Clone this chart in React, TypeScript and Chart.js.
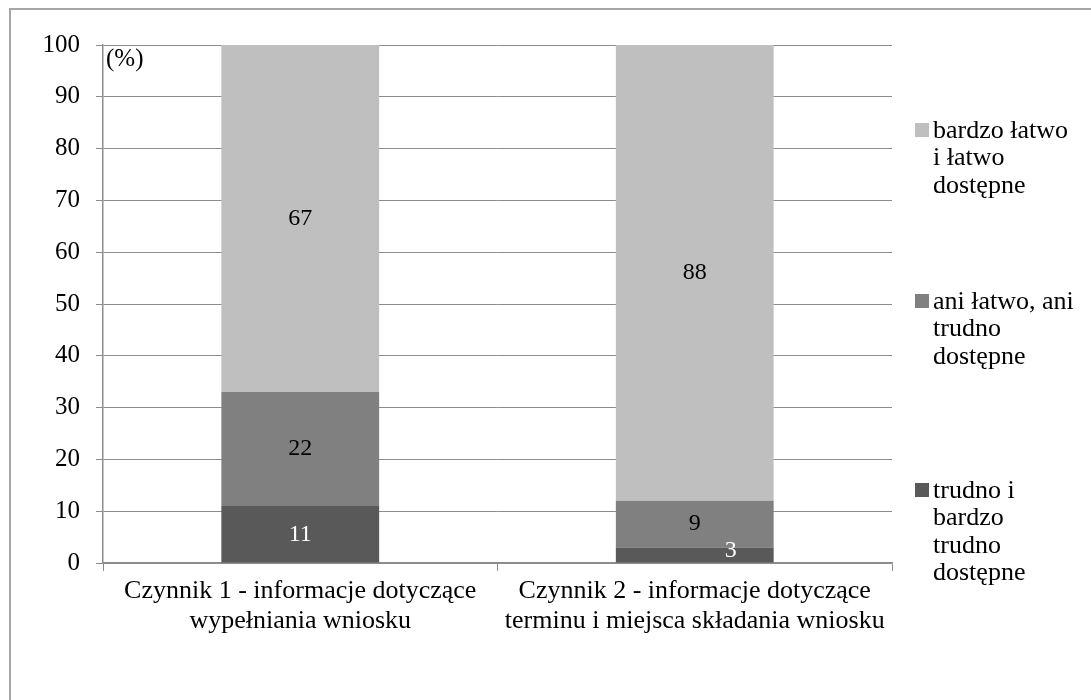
import React, { useEffect, useRef } from "react";
import { Chart, registerables } from "chart.js";

Chart.register(...registerables);

const categories = [
  ["Czynnik 1 - informacje dotyczące", "wypełniania wniosku"],
  ["Czynnik 2 - informacje dotyczące", "terminu i miejsca składania wniosku"],
];
const seriesNames = [
  "trudno i bardzo trudno dostępne",
  "ani łatwo, ani trudno dostępne",
  "bardzo łatwo i łatwo dostępne",
];
const legendLines = [
  ["trudno i", "bardzo", "trudno", "dostępne"],
  ["ani łatwo, ani", "trudno", "dostępne"],
  ["bardzo łatwo", "i łatwo", "dostępne"],
];
const hardValues = [11, 3];
const neutralValues = [22, 9];
const easyValues = [67, 88];
const yTicks = [0, 10, 20, 30, 40, 50, 60, 70, 80, 90, 100];
const unitLabel = "(%)";

const colors = ["#595959", "#808080", "#bfbfbf"];
const labelColors = ["#ffffff", "#000000", "#000000"];
const FONT = '"Liberation Serif", "Times New Roman", serif';
const FS_TICK = 25;
const FS_CAT = 26;
const FS_LEG = 26;
const FS_VAL = 24;
const GRID = "#8c8c8c";

const labelsPlugin = {
  id: "valueLabels",
  afterDatasetsDraw(chart: any) {
    const ctx = chart.ctx;
    ctx.save();
    ctx.font = `${FS_VAL}px ${FONT}`;
    ctx.textAlign = "center";
    ctx.textBaseline = "middle";
    chart.data.datasets.forEach((ds: any, di: number) => {
      const meta = chart.getDatasetMeta(di);
      meta.data.forEach((bar: any, i: number) => {
        const v = ds.data[i];
        const h = Math.abs(bar.base - bar.y);
        let x = bar.x;
        let y = (bar.y + bar.base) / 2;
        if (h < FS_VAL) {
          x += 36;
          y -= 4;
        }
        ctx.fillStyle = labelColors[di];
        ctx.fillText(String(v), x, y);
      });
    });
    ctx.restore();
  },
};

const extrasPlugin = {
  id: "extras",
  afterDraw(chart: any) {
    const ctx = chart.ctx;
    const area = chart.chartArea;
    ctx.save();
    ctx.font = `${FS_TICK}px ${FONT}`;
    ctx.fillStyle = "#000";
    ctx.textAlign = "left";
    ctx.textBaseline = "middle";
    ctx.fillText(unitLabel, area.left + 3, area.top + 14);
    // legend
    ctx.font = `${FS_LEG}px ${FONT}`;
    const starts = [491, 302, 131];
    const lh = 27.5;
    const sqX = 915;
    const txX = 933;
    for (let s = 0; s < 3; s++) {
      const y0 = starts[s];
      ctx.fillStyle = colors[s];
      ctx.fillRect(sqX, y0 - 8, 14, 14);
      ctx.fillStyle = "#000";
      legendLines[s].forEach((ln, k) => {
        ctx.fillText(ln, txX, y0 + k * lh);
      });
    }
    ctx.restore();
  },
};

export default function App() {
  const ref = useRef<HTMLCanvasElement | null>(null);
  useEffect(() => {
    if (!ref.current) return;
    const mk = (label: string, data: number[], i: number) => ({
      label,
      data,
      backgroundColor: colors[i],
      borderWidth: 0,
      barPercentage: 0.4,
      categoryPercentage: 1,
    });
    const chart = new Chart(ref.current, {
      type: "bar",
      data: {
        labels: categories,
        datasets: [
          mk(seriesNames[0], hardValues, 0),
          mk(seriesNames[1], neutralValues, 1),
          mk(seriesNames[2], easyValues, 2),
        ],
      },
      options: {
        responsive: false,
        animation: false,
        layout: { padding: { left: 0, right: 199, top: 45, bottom: 37 } },
        plugins: { legend: { display: false }, tooltip: { enabled: false } },
        scales: {
          x: {
            stacked: true,
            offset: true,
            grid: {
              offset: true,
              drawOnChartArea: false,
              drawTicks: true,
              tickLength: 8,
              color: GRID,
            },
            border: { color: GRID, width: 1.5 },
            ticks: {
              color: "#000",
              font: { family: FONT, size: FS_CAT, lineHeight: 1.15 },
              padding: 5,
              maxRotation: 0,
              autoSkip: false,
            },
            afterFit(scale: any) {
              scale.height = 100;
            },
          },
          y: {
            stacked: true,
            min: 0,
            max: 100,
            afterBuildTicks(scale: any) {
              scale.ticks = yTicks.map((v) => ({ value: v }));
            },
            grid: { color: GRID, tickLength: 7, lineWidth: 1 },
            border: { color: GRID, width: 1.5 },
            ticks: {
              color: "#000",
              font: { family: FONT, size: FS_TICK },
              padding: 16,
            },
            afterFit(scale: any) {
              scale.width = 103;
            },
          },
        },
      },
      plugins: [labelsPlugin, extrasPlugin],
    });
    return () => chart.destroy();
  }, []);
  return (
    <div
      style={{
        position: "fixed",
        left: 0,
        top: 0,
        width: 1091,
        height: 700,
        overflow: "hidden",
        background: "#fff",
      }}
    >
      <div
        style={{
          position: "absolute",
          left: 9,
          top: 8,
          width: 1300,
          height: 900,
          borderTop: "2px solid #a6a6a6",
          borderLeft: "2px solid #a6a6a6",
        }}
      />
      <canvas
        ref={ref}
        width={1091}
        height={700}
        style={{ position: "absolute", left: 0, top: 0 }}
      />
    </div>
  );
}
